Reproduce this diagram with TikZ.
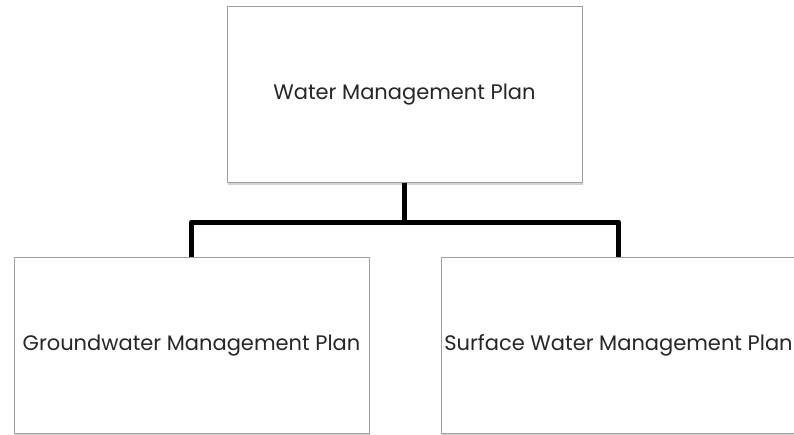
\documentclass[tikz,border=0pt]{standalone}
\usepackage{fontspec}
\setmainfont{Poppins}
\usetikzlibrary{shadows}
\tikzset{%
  % Specifications for style of nodes:
        plan/.style = {rectangle, draw=gray!75, line width=1pt, fill=white,
                       minimum width=355pt, minimum height=176pt,
                       text centered, text=black!85,
                       font=\fontsize{21}{25}\selectfont,
                       drop shadow={shadow xshift=1pt, shadow yshift=-2pt,
                                    opacity=0.35, fill=gray}},
  connector/.style = {draw=black, line width=5pt, line join=round},
}
\begin{document}
\begin{tikzpicture}[node distance=251pt]
  \useasboundingbox (0,0) rectangle (794pt,-434pt);
  % Specification of nodes (position, etc.)
  \node (wmp) [plan] at (404.5pt,-94.5pt) {Water Management Plan};
  \node (gmp) [plan, below of=wmp, xshift=-213pt] {Groundwater Management Plan};
  \node (swmp) [plan, below of=wmp, xshift=214pt] {Surface Water Management Plan};
  % Specification of lines between nodes specified above
  \coordinate (split) at ([yshift=-39pt]wmp.south);
  \draw[connector] (wmp.south) -- (split);
  \draw[connector] (split) -| (gmp.north);
  \draw[connector] (split) -| (swmp.north);
\end{tikzpicture}
\end{document}
